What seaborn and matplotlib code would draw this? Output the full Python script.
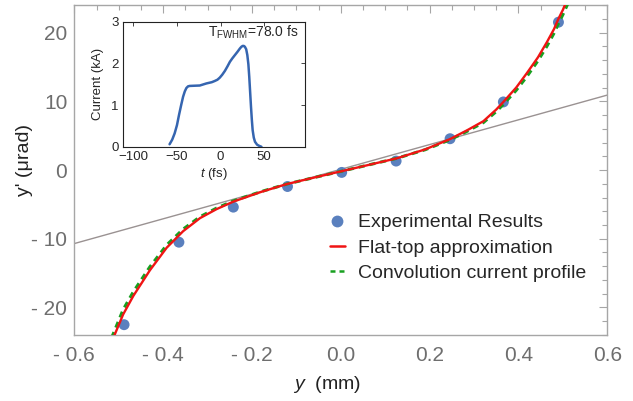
import matplotlib
matplotlib.use("Agg")
import matplotlib.pyplot as plt
import seaborn as sns
from matplotlib.ticker import MultipleLocator, FuncFormatter, FixedLocator
from matplotlib.lines import Line2D

sns.set_style("white")
plt.rcParams["font.family"] = ["Liberation Sans", "DejaVu Sans"]
plt.rcParams["mathtext.fontset"] = "custom"
plt.rcParams["mathtext.rm"] = "Liberation Sans"
plt.rcParams["mathtext.it"] = "Liberation Sans:italic"
plt.rcParams["mathtext.default"] = "regular"

# ---- measured kicks (y in mm, y' in urad)
exp_y = [-0.488, -0.3645, -0.242, -0.120, 0.002, 0.1245, 0.246, 0.366, 0.490]
exp_yp = [-22.5, -10.5, -5.4, -2.4, -0.35, 1.3, 4.55, 9.9, 21.5]

# ---- flat-top approximation
flat_y = [-0.512, -0.490, -0.467, -0.430, -0.392, -0.355, -0.317, -0.280, -0.242,
          -0.180, -0.122, -0.060, 0.000, 0.060, 0.126, 0.190, 0.246, 0.285,
          0.321, 0.350, 0.366, 0.395, 0.419, 0.444, 0.464, 0.480, 0.490, 0.500, 0.508]
flat_yp = [-24.4, -21.0, -18.3, -14.6, -11.3, -8.9, -7.0, -5.7, -4.6,
           -3.2, -2.05, -1.1, -0.2, 0.7, 1.7, 3.0, 4.5, 5.8,
           7.1, 8.8, 9.9, 12.0, 14.1, 16.4, 18.6, 20.5, 22.0, 23.3, 24.5]

# ---- convolution with the measured current profile
conv_y = [-0.516, -0.490, -0.467, -0.430, -0.392, -0.355, -0.317, -0.280, -0.242,
          -0.180, -0.122, -0.060, 0.000, 0.060, 0.126, 0.190, 0.246, 0.285,
          0.321, 0.350, 0.366, 0.395, 0.419, 0.444, 0.464, 0.480, 0.490, 0.500, 0.507, 0.514]
conv_yp = [-24.4, -20.3, -17.7, -14.1, -10.9, -8.6, -6.8, -5.55, -4.5,
           -3.15, -2.05, -1.1, -0.2, 0.7, 1.7, 2.95, 4.4, 5.65,
           6.9, 8.5, 9.55, 11.6, 13.6, 15.9, 18.0, 19.9, 21.3, 22.6, 23.6, 24.6]

# ---- linear (small-offset) reference line
lin_y = [-0.6, 0.6]
lin_yp = [-10.7, 10.9]

# ---- current profile (inset)
t_fs = [-58.5, -55.5, -52.7, -50.0, -47.7, -45.2, -43.0, -41.0, -39.2, -37.3, -35.4,
        -30.0, -23.8, -16.2, -10.0, -6.5, -3.5, -0.8, 2.0, 5.0, 8.0, 10.8, 13.5,
        16.5, 19.5, 22.3, 24.0, 25.4, 26.8, 28.0, 29.5, 30.8, 32.0, 33.0, 34.0,
        35.0, 36.0, 36.9, 38.2, 39.6, 42.0, 44.6, 47.0]
current_kA = [0.06, 0.17, 0.32, 0.52, 0.76, 1.00, 1.20, 1.33, 1.41, 1.45, 1.46,
              1.465, 1.47, 1.52, 1.55, 1.58, 1.61, 1.66, 1.73, 1.82, 1.93, 2.04, 2.12,
              2.20, 2.28, 2.36, 2.40, 2.42, 2.42, 2.40, 2.34, 2.20, 1.98, 1.68, 1.32,
              0.96, 0.64, 0.40, 0.22, 0.12, 0.05, 0.02, 0.0]

xticks_main = [-0.6, -0.4, -0.2, 0.0, 0.2, 0.4, 0.6]
yticks_main = [-20, -10, 0, 10, 20]

spine_grey = "#a6a6a6"
label_grey = "#6e6e6e"
c_exp = "#5a80be"
c_flat = "#f01414"
c_conv = "#18a020"

fig = plt.figure(figsize=(6.33, 4.01), dpi=100)
ax = fig.add_axes([0.1174, 0.1646, 0.8420, 0.8229])

sns.scatterplot(x=exp_y, y=exp_yp, ax=ax, s=62, color=c_exp, edgecolor="none",
                linewidth=0, zorder=2, legend=False)
sns.lineplot(x=lin_y, y=lin_yp, ax=ax, color="#9a9292", linewidth=1.0, zorder=1,
             errorbar=None)
sns.lineplot(x=conv_y, y=conv_yp, ax=ax, color=c_conv, linewidth=2.2,
             linestyle=(0, (2.0, 1.6)), zorder=3, errorbar=None)
sns.lineplot(x=flat_y, y=flat_yp, ax=ax, color=c_flat, linewidth=1.7, zorder=4,
             errorbar=None)

ax.set_xlim(-0.6, 0.6)
ax.set_ylim(-24, 24)
ax.xaxis.set_major_locator(FixedLocator(xticks_main))
ax.yaxis.set_major_locator(FixedLocator(yticks_main))
ax.xaxis.set_minor_locator(MultipleLocator(0.05))
ax.yaxis.set_minor_locator(MultipleLocator(2))


def dash_fmt(digits):
    def f(v, pos):
        s = f"{abs(v):.{digits}f}"
        return f"- {s}" if v < -1e-9 else s
    return FuncFormatter(f)


ax.xaxis.set_major_formatter(dash_fmt(1))
ax.yaxis.set_major_formatter(dash_fmt(0))
for s in ax.spines.values():
    s.set_color(spine_grey)
    s.set_linewidth(1.0)
ax.tick_params(which="both", direction="in", top=True, right=True,
               color=spine_grey, width=0.8)
ax.tick_params(which="major", length=6)
ax.tick_params(which="minor", length=3.5)
ax.tick_params(axis="both", which="major", labelsize=15, labelcolor=label_grey)
ax.tick_params(axis="x", pad=8)
ax.tick_params(axis="y", pad=5)

ax.set_xlabel("$\\it{y}$  (mm)", fontsize=14, color="#222222")
ax.set_ylabel("y' (μrad)", fontsize=14, color="#222222")
ax.xaxis.set_label_coords(0.474, -0.118)
ax.yaxis.set_label_coords(-0.077, 0.53)

handles = [
    Line2D([], [], marker="o", linestyle="none", markersize=8.5,
           markerfacecolor=c_exp, markeredgecolor="none"),
    Line2D([], [], color=c_flat, linewidth=1.8),
    Line2D([], [], color=c_conv, linewidth=1.8, linestyle=(0, (2.0, 1.6))),
]
ax.legend(handles, ["Experimental Results", "Flat-top approximation",
                    "Convolution current profile"],
          loc="upper left", bbox_to_anchor=(0.5054, 0.491),
          bbox_transform=fig.transFigure, frameon=False, fontsize=14,
          handlelength=0.77, handletextpad=0.69, labelspacing=0.39, borderpad=0)

# ---- inset: current profile
ins = fig.add_axes([0.1943, 0.634, 0.2875, 0.3117])
ins.set_facecolor("white")
sns.lineplot(x=t_fs, y=current_kA, ax=ins, color="#3565b0", linewidth=1.8,
             errorbar=None)
ins.set_xlim(-112, 97)
ins.set_ylim(0, 3)
ins.set_xticks([-100, -50, 0, 50])
ins.set_yticks([0, 1, 2, 3])
for s in ins.spines.values():
    s.set_color("#222222")
    s.set_linewidth(0.8)
ins.tick_params(which="both", direction="in", top=True, right=True, length=3,
                width=0.7, labelsize=9.5, pad=3, color="#444444")
ins.set_xlabel("$\\it{t}$ (fs)", fontsize=9.5, labelpad=2.5)
ins.set_ylabel("Current (kA)", fontsize=9.5, labelpad=5)
ins.text(0.467, 0.985, "T$_{\\mathrm{FWHM}}$=78.0 fs", transform=ins.transAxes,
         ha="left", va="top", fontsize=10)

fig.savefig("out.png", dpi=100)
